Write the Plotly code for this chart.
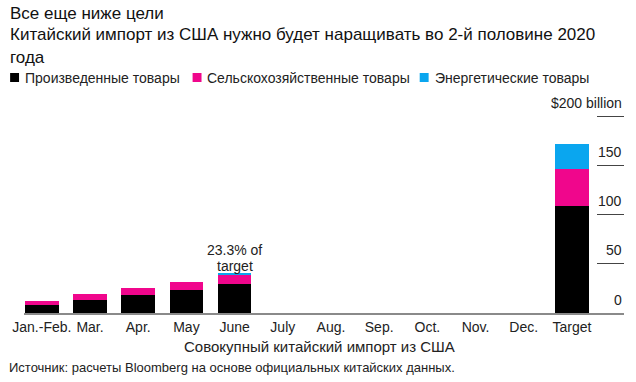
import plotly.graph_objects as go

categories = ["Jan.-Feb.", "Mar.", "Apr.", "May", "June", "July", "Aug.", "Sep.", "Oct.", "Nov.", "Dec.", "Target"]
manufactured = [8.1, 13.2, 17.9, 23.3, 29.4, 0, 0, 0, 0, 0, 0, 108.5]
agricultural = [4.4, 6.4, 7.7, 8.3, 9.2, 0, 0, 0, 0, 0, 0, 37.5]
energy = [0.0, 0.0, 0.0, 0.0, 1.4, 0, 0, 0, 0, 0, 0, 25.5]
series_names = ["Произведенные товары", "Сельскохозяйственные товары", "Энергетические товары"]
series_colors = ["#000000", "#f0068c", "#0aa6ef"]
y_tickvals = [0, 50, 100, 150, 200]
y_ticktext = ["0", "50", "100", "150", "$200 billion"]

W, H = 636, 382
PX_PER_UNIT = 0.985
L, R, B = 19, 12, 69
T = 91
Y_MAX = (H - B - T) / PX_PER_UNIT
PW, PH = W - L - R, H - T - B
FONT = "Liberation Sans, Arial, sans-serif"


def px_x(px):
    return (px - L) / PW


def px_y(py):
    return (H - B - py) / PH


fig = go.Figure()
for name, vals, col in zip(series_names, [manufactured, agricultural, energy], series_colors):
    fig.add_trace(go.Bar(x=list(range(len(categories))), y=vals, name=name,
                         marker=dict(color=col, line=dict(width=0)), width=0.7,
                         showlegend=False, hoverinfo="skip"))

annotations = [
    dict(text="Все еще ниже цели", x=px_x(3), y=px_y(13), xanchor="left", yanchor="middle",
         font=dict(size=17, color="#111")),
    dict(text="Китайский импорт из США нужно будет наращивать во 2-й половине 2020", x=px_x(3), y=px_y(35),
         xanchor="left", yanchor="middle", font=dict(size=17, color="#111")),
    dict(text="года", x=px_x(3), y=px_y(57), xanchor="left", yanchor="middle",
         font=dict(size=17, color="#111")),
    dict(text="Совокупный китайский импорт из США", x=px_x(317), y=px_y(346), xanchor="center",
         yanchor="middle", font=dict(size=15, color="#222")),
    dict(text="Источник: расчеты Bloomberg на основе официальных китайских данных.", x=px_x(2), y=px_y(367),
         xanchor="left", yanchor="middle", font=dict(size=13, color="#222")),
]

# y tick labels sit above their short tick lines
for v, t in zip(y_tickvals, y_ticktext):
    annotations.append(dict(text=t, x=1.0, y=v, xref="paper", yref="y", xanchor="right",
                            yanchor="middle", yshift=13.5, showarrow=False,
                            font=dict(size=14, color="#222")))

june_total = manufactured[4] + agricultural[4] + energy[4]
target_total = manufactured[11] + agricultural[11] + energy[11]
annotations.append(dict(text=f"{june_total / target_total * 100:.1f}% of", x=4, y=june_total,
                        xref="x", yref="y", showarrow=False, yanchor="middle", yshift=24,
                        font=dict(size=14, color="#222")))
annotations.append(dict(text="target", x=4, y=june_total,
                        xref="x", yref="y", showarrow=False, yanchor="middle", yshift=8,
                        font=dict(size=14, color="#222")))

legend_sq_x = [5, 189, 418]
shapes = []
for sx, name, col in zip(legend_sq_x, series_names, series_colors):
    shapes.append(dict(type="rect", xref="paper", yref="paper", x0=px_x(sx), x1=px_x(sx + 9),
                       y0=px_y(82), y1=px_y(73), fillcolor=col, line=dict(width=0)))
    annotations.append(dict(text=name, x=px_x(sx + 13), y=px_y(77.5), xanchor="left", yanchor="middle",
                            font=dict(size=14, color="#222")))

for a in annotations:
    a.setdefault("xref", "paper")
    a.setdefault("yref", "paper")
    a.setdefault("showarrow", False)

fig.update_layout(
    width=W, height=H,
    margin=dict(l=L, r=R, t=T, b=B, pad=0),
    paper_bgcolor="white", plot_bgcolor="white",
    barmode="stack",
    font=dict(family=FONT, color="#222"),
    xaxis=dict(range=[-0.37, 12.08], tickvals=list(range(len(categories))), ticktext=categories,
               showgrid=False, zeroline=False, showline=True, linecolor="#8a8a8a", linewidth=1.5,
               ticks="", tickfont=dict(size=14, color="#222"), fixedrange=True),
    yaxis=dict(range=[0, Y_MAX], side="right", tickvals=y_tickvals, showticklabels=False,
               showgrid=False, zeroline=False, showline=False,
               ticks="inside", ticklen=27, tickcolor="#444", tickwidth=1, fixedrange=True),
    annotations=annotations,
    shapes=shapes,
    showlegend=False,
)

fig.write_html("out.html", post_script="document.body.style.margin='0';",
               config={"displayModeBar": False})
